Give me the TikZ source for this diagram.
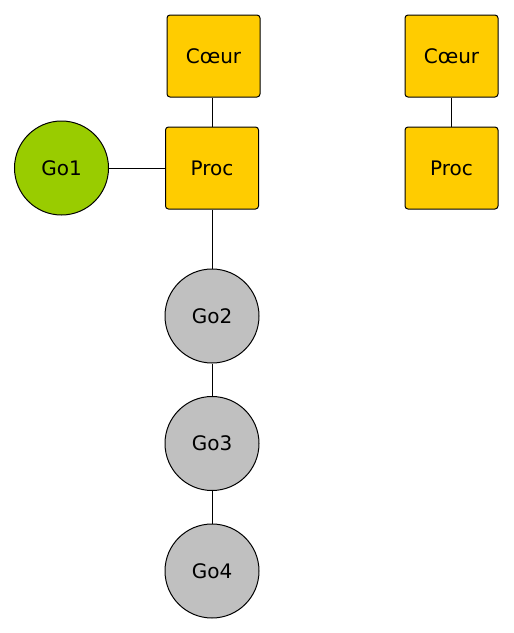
\documentclass[tikz,border=0pt]{standalone}
\usepackage{fontspec}
\setmainfont{DejaVu Sans}
\definecolor{jaune}{HTML}{FFCC00}
\definecolor{vert}{HTML}{99CC00}
\definecolor{gris}{HTML}{C0C0C0}
\begin{document}
\begin{tikzpicture}[x=1pt,y=-1pt,line width=1pt]
	\tikzstyle{coeur}=[rectangle,draw,rounded corners=3pt,fill=jaune,minimum width=93pt,minimum height=82pt,font=\fontsize{20}{24}\selectfont]
	\tikzstyle{gor}=[circle,draw,fill=gris,minimum size=94pt,inner sep=0pt,font=\fontsize{20}{24}\selectfont]
	\tikzstyle{actif}=[gor,fill=vert]
	\useasboundingbox (0,0) rectangle (514,633);
	\node[coeur] (C1) at (213.5,56){Cœur};
	\node[coeur] (P1) at (212,168){Proc};
	\node[coeur] (C2) at (451.5,56){Cœur};
	\node[coeur] (P2) at (451.5,168){Proc};
	\node[actif] (G1) at (61.5,168){Go1};
	\node[gor] (G2) at (212,316){Go2};
	\node[gor] (G3) at (212,443.5){Go3};
	\node[gor] (G4) at (212,571){Go4};
	\draw (C1.south -| P1) -- (P1);
	\draw (C2) -- (P2);
	\draw (G1) -- (P1);
	\draw (P1) -- (G2);
	\draw (G2) -- (G3);
	\draw (G3) -- (G4);
\end{tikzpicture}
\end{document}
